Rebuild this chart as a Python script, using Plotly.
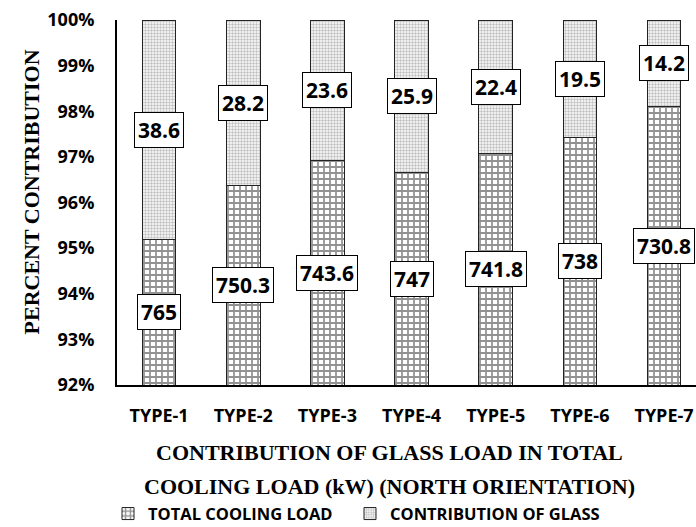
import plotly.graph_objects as go

categories = ["TYPE-1", "TYPE-2", "TYPE-3", "TYPE-4", "TYPE-5", "TYPE-6", "TYPE-7"]
total_cooling = [765, 750.3, 743.6, 747, 741.8, 738, 730.8]
glass = [38.6, 28.2, 23.6, 25.9, 22.4, 19.5, 14.2]
y_ticks = [0.92, 0.93, 0.94, 0.95, 0.96, 0.97, 0.98, 0.99, 1.00]

SANS = "Open Sans"
SERIF = "Liberation Serif"
Y0, Y1 = 0.92, 1.0

fig = go.Figure()
fig.add_trace(go.Bar(
    x=categories, y=total_cooling, name="TOTAL COOLING LOAD", width=0.4,
    legend="legend",
    marker=dict(color="white", line=dict(color="#222222", width=1),
                pattern=dict(shape="+", size=6, solidity=0.5, fgcolor="#262626",
                             bgcolor="white", fillmode="overlay")),
))
fig.add_trace(go.Bar(
    x=categories, y=glass, name="CONTRIBUTION OF GLASS", width=0.4,
    legend="legend2",
    marker=dict(color="white", line=dict(color="#222222", width=1),
                pattern=dict(shape=".", size=3, solidity=0.5, fgcolor="#808080",
                             bgcolor="white", fillmode="overlay")),
))

annotations = []
for c, t, g in zip(categories, total_cooling, glass):
    share = t / (t + g)
    for val, yc in ((t, (Y0 + share) / 2), (g, (share + Y1) / 2)):
        annotations.append(dict(
            x=c, y=yc, xref="x", yref="y", text=f"{val:g}", showarrow=False,
            font=dict(family=SANS, size=21, color="black", weight="bold"),
            bgcolor="white", bordercolor="black", borderwidth=1, borderpad=3,
        ))

title_font = dict(family=SERIF, size=22, color="black", weight="bold")
annotations.append(dict(
    x=0.4715, y=-0.186, xref="paper", yref="paper", xanchor="center", yanchor="middle",
    text="CONTRIBUTION OF GLASS LOAD IN TOTAL", showarrow=False, font=title_font,
))
annotations.append(dict(
    x=0.4715, y=-0.277, xref="paper", yref="paper", xanchor="center", yanchor="middle",
    text="COOLING LOAD (kW) (NORTH ORIENTATION)", showarrow=False, font=title_font,
))
annotations.append(dict(
    x=-0.147, y=0.53, xref="paper", yref="paper", xanchor="center", yanchor="middle",
    text="PERCENT CONTRIBUTION", textangle=-90, showarrow=False, font=title_font,
))

legend_font = dict(family=SANS, size=16.5, color="black", weight="bold")
legend_common = dict(orientation="h", xref="container", yref="container",
                     yanchor="middle", xanchor="left", y=0.025, font=legend_font,
                     itemwidth=30, bgcolor="rgba(0,0,0,0)")

fig.update_layout(
    width=696, height=527,
    margin=dict(l=117, r=0, t=20, b=142, autoexpand=False),
    barmode="stack", barnorm="fraction",
    plot_bgcolor="white", paper_bgcolor="white",
    showlegend=True,
    legend=dict(x=108 / 696, **legend_common),
    legend2=dict(x=350 / 696, **legend_common),
    annotations=annotations,
    xaxis=dict(range=[-0.5, 6.38], showline=True, linecolor="black", linewidth=2,
               showgrid=False, ticks="", ticklabelstandoff=13,
               tickfont=dict(family=SANS, size=18, color="black", weight="bold")),
    yaxis=dict(range=[Y0, Y1], tickvals=y_ticks, tickformat=".0%",
               showline=True, linecolor="black", linewidth=2, showgrid=False,
               zeroline=False, ticks="", ticklabelstandoff=17,
               tickfont=dict(family=SANS, size=18, color="black", weight="bold")),
)

fig.write_html("out.html")
